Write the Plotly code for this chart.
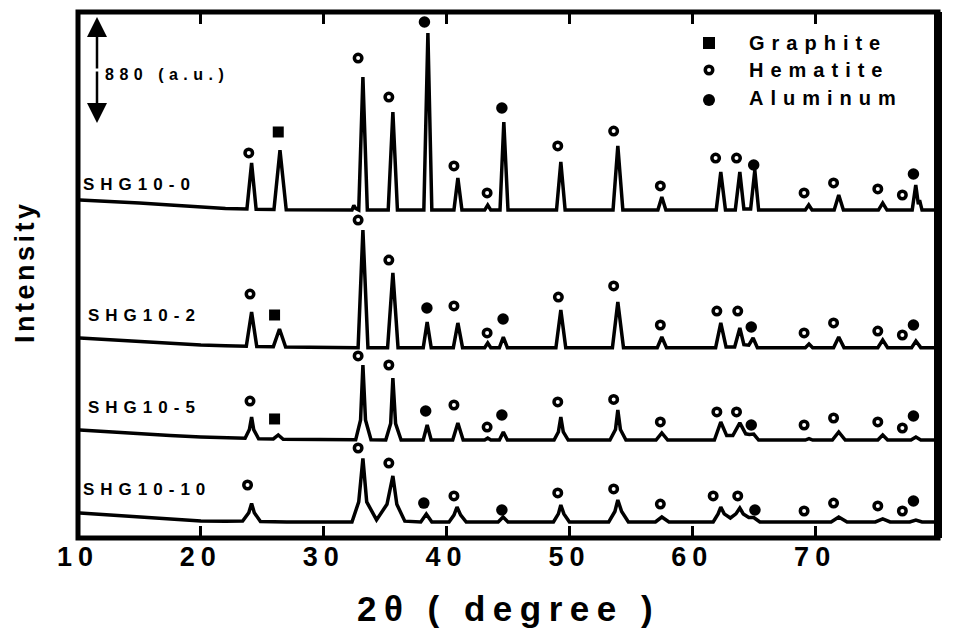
import plotly.graph_objects as go

# ---------------- data (2-theta in degree, intensity in a.u.) ----------------
x_ticks = [10, 20, 30, 40, 50, 60, 70, 80]
x_tick_labels = ["10", "20", "30", "40", "50", "60", "70", "80"]

sample_names = ["SHG10-0", "SHG10-2", "SHG10-5", "SHG10-10"]
phase_names = ["Graphite", "Hematite", "Aluminum"]
scale_bar_au = 880

shg10_0 = [
    (10.15, 2805), (12.5, 2795), (15, 2781), (17.5, 2765), (20, 2747), (22, 2735),
    (23.75, 2731), (24.13, 3113), (24.5, 2728),
    (25.95, 2726), (26.44, 3220), (26.95, 2724),
    (32.3, 2722), (32.45, 2760), (32.6, 2735),
    (32.85, 2722), (33.19, 3826), (33.55, 2722),
    (35.25, 2722), (35.63, 3536), (36.0, 2722),
    (38.15, 2722), (38.48, 4192), (38.8, 2722),
    (40.6, 2722), (40.92, 2988), (41.25, 2722),
    (43.1, 2722), (43.35, 2764), (43.6, 2722),
    (44.35, 2722), (44.66, 3453), (45.0, 2722),
    (48.95, 2722), (49.3, 3121), (49.65, 2722),
    (53.55, 2722), (53.94, 3254), (54.35, 2722),
    (57.2, 2722), (57.52, 2830), (57.85, 2722),
    (61.95, 2722), (62.32, 3038), (62.7, 2722),
    (63.5, 2722), (63.87, 3038), (64.2, 2730),
    (64.75, 2730), (65.09, 3054), (65.4, 2722),
    (69.2, 2722), (69.48, 2764), (69.75, 2722),
    (71.55, 2722), (71.92, 2847), (72.3, 2722),
    (75.15, 2722), (75.5, 2780), (75.85, 2722),
    (77.9, 2722), (78.19, 2930), (78.4, 2770), (78.5, 2805), (78.7, 2722),
    (80.0, 2722),
]

shg10_2 = [
    (10.15, 1660), (12.5, 1645), (15, 1627), (17.5, 1614), (20, 1602), (22, 1595),
    (23.7, 1592), (24.13, 1876), (24.55, 1590),
    (25.9, 1588), (26.4, 1735), (26.9, 1585),
    (32.8, 1580), (33.19, 2556), (33.6, 1580),
    (35.2, 1580), (35.63, 2200), (36.05, 1580),
    (38.1, 1580), (38.42, 1793), (38.75, 1580),
    (40.55, 1580), (40.92, 1785), (41.3, 1580),
    (43.1, 1580), (43.35, 1619), (43.6, 1580),
    (44.3, 1580), (44.62, 1668), (44.95, 1580),
    (48.9, 1580), (49.3, 1892), (49.7, 1580),
    (53.5, 1580), (53.94, 1959), (54.4, 1580),
    (57.15, 1580), (57.52, 1668), (57.9, 1580),
    (61.9, 1580), (62.32, 1785), (62.75, 1585),
    (63.45, 1585), (63.87, 1743), (64.2, 1605), (64.6, 1600), (64.95, 1660), (65.3, 1580),
    (69.2, 1580), (69.5, 1610), (69.8, 1580),
    (71.5, 1580), (71.92, 1668), (72.35, 1580),
    (75.1, 1580), (75.5, 1643), (75.9, 1580),
    (77.85, 1580), (78.2, 1635), (78.6, 1580),
    (80.0, 1580),
]

shg10_5 = [
    (10.15, 896), (12.5, 880), (15, 863), (17.5, 850), (20, 838), (22, 832),
    (23.6, 828), (23.95, 900), (24.13, 1004), (24.3, 900), (24.7, 824),
    (25.9, 822), (26.3, 855), (26.7, 820),
    (32.6, 815), (33.0, 980), (33.19, 1436), (33.4, 980), (33.85, 815),
    (35.05, 813), (35.45, 950), (35.63, 1328), (35.85, 950), (36.3, 813),
    (38.1, 813), (38.42, 938), (38.75, 813),
    (40.5, 813), (40.92, 955), (41.35, 813),
    (43.1, 813), (43.35, 830), (43.6, 813),
    (44.3, 813), (44.62, 880), (44.95, 813),
    (48.75, 813), (49.1, 880), (49.3, 1004), (49.5, 880), (49.9, 813),
    (53.3, 813), (53.75, 900), (53.94, 1062), (54.15, 900), (54.6, 813),
    (57.05, 813), (57.52, 872), (58.0, 813),
    (61.8, 813), (62.32, 963), (62.8, 850),
    (63.3, 850), (63.87, 955), (64.35, 865), (64.65, 860), (65.0, 863), (65.4, 813),
    (69.2, 813), (69.5, 825), (69.8, 813),
    (71.4, 813), (71.92, 880), (72.45, 813),
    (75.1, 813), (75.5, 855), (75.9, 813),
    (77.8, 813), (78.2, 838), (78.6, 813),
    (80.0, 813),
]

shg10_10 = [
    (10.15, 208), (12.5, 192), (15, 174), (17.5, 157), (20, 141), (22, 138),
    (23.4, 140), (23.9, 210), (24.13, 286), (24.35, 210), (24.85, 137),
    (27.0, 133), (32.3, 133), (32.85, 300), (33.19, 660), (33.5, 300), (34.3, 150),
    (35.15, 280), (35.63, 515), (35.95, 280), (36.6, 140),
    (37.9, 133), (38.35, 199), (38.8, 133),
    (40.2, 133), (40.6, 190), (40.85, 257), (41.15, 190), (41.6, 133),
    (44.2, 133), (44.6, 174), (45.0, 133),
    (48.7, 133), (49.1, 200), (49.3, 274), (49.55, 200), (50.0, 133),
    (53.2, 133), (53.7, 220), (53.94, 315), (54.25, 220), (54.8, 133),
    (57.0, 133), (57.52, 174), (58.1, 133),
    (61.7, 133), (62.1, 200), (62.32, 257), (62.6, 200), (63.1, 166), (63.55, 200),
    (63.87, 249), (64.15, 200), (64.6, 170), (65.0, 170), (65.5, 133),
    (71.3, 133), (71.92, 174), (72.6, 133),
    (74.9, 133), (75.5, 158), (76.1, 133),
    (77.7, 133), (78.2, 149), (78.7, 133),
    (80.0, 133),
]

# phase markers (2-theta, intensity) per sample
hem_0 = [(23.9, 3196), (32.8, 3984), (35.3, 3660), (40.6, 3088), (43.3, 2864), (49.05, 3254),
         (53.6, 3378), (57.4, 2922), (61.9, 3154), (63.6, 3154), (69.1, 2864), (71.5, 2947),
         (75.1, 2897), (77.1, 2847)]
gra_0 = [(26.3, 3370)]
alu_0 = [(38.2, 4283), (44.5, 3569), (65.0, 3096), (78.0, 3021)]

hem_2 = [(24.0, 2025), (32.8, 2639), (35.3, 2307), (40.6, 1926), (43.3, 1702), (49.1, 2000),
         (53.6, 2092), (57.4, 1768), (62.0, 1884), (63.7, 1884), (69.1, 1702), (71.5, 1785),
         (75.1, 1718), (77.1, 1685)]
gra_2 = [(26.0, 1851)]
alu_2 = [(38.4, 1909), (44.6, 1818), (64.8, 1751), (78.0, 1768)]

hem_5 = [(24.0, 1137), (32.8, 1511), (35.3, 1436), (40.6, 1104), (43.3, 921), (49.05, 1129),
         (53.6, 1150), (57.4, 963), (62.0, 1046), (63.6, 1046), (69.1, 938), (71.5, 996),
         (75.1, 963), (77.1, 913)]
gra_5 = [(26.0, 988)]
alu_5 = [(38.3, 1054), (44.5, 1021), (64.8, 938), (78.0, 1013)]

hem_10 = [(23.8, 440), (32.8, 747), (35.3, 622), (40.6, 349), (49.05, 374), (53.6, 407),
          (57.4, 282), (61.7, 349), (63.7, 349), (69.1, 224), (71.5, 290), (75.1, 266),
          (77.1, 224)]
gra_10 = []
alu_10 = [(38.15, 290), (44.5, 232), (65.1, 232), (78.0, 307)]

# ---------------- layout geometry ----------------
W, H = 957, 630
ML, MR, MT, MB = 78, 19, 12, 92
PW, PH = W - ML - MR, H - MT - MB
X_RANGE = [10, 80]
Y_RANGE = [0, 4366]

FONT = "Liberation Sans, Arial, sans-serif"


def dx(px):
    return X_RANGE[0] + (px - ML) / PW * (X_RANGE[1] - X_RANGE[0])


def dy(py):
    return Y_RANGE[0] + (MT + PH - py) / PH * (Y_RANGE[1] - Y_RANGE[0])


def ppx(px):
    return (px - ML) / PW


def ppy(py):
    return (MT + PH - py) / PH


def spaced(text, ls):
    return f'<span style="letter-spacing:{ls}px">{text}</span>'


fig = go.Figure()

patterns = [shg10_0, shg10_2, shg10_5, shg10_10]
hems = [hem_0, hem_2, hem_5, hem_10]
gras = [gra_0, gra_2, gra_5, gra_10]
alus = [alu_0, alu_2, alu_5, alu_10]

for name, pat in zip(sample_names, patterns):
    fig.add_trace(go.Scatter(
        x=[p[0] for p in pat], y=[p[1] for p in pat], mode="lines", name=name,
        line=dict(color="black", width=3.5), showlegend=False, hoverinfo="skip"))


def add_markers(pts, symbol, size, lw=0):
    if not pts:
        return
    fig.add_trace(go.Scatter(
        x=[p[0] for p in pts], y=[p[1] for p in pts], mode="markers", showlegend=False,
        hoverinfo="skip",
        marker=dict(symbol=symbol, size=size, color="black",
                    line=dict(color="black", width=lw))))


for h_, g_, a_ in zip(hems, gras, alus):
    add_markers(h_, "circle-open", 7.5, 3.5)
    add_markers(g_, "square", 11)
    add_markers(a_, "circle", 11.5)

# legend keys
add_markers([(dx(709), dy(43))], "square", 12)
add_markers([(dx(709), dy(70))], "circle-open", 7.5, 3.5)
add_markers([(dx(709), dy(100))], "circle", 12)

annotations = []
# legend text
for txt, py in zip(phase_names, [43, 70, 98]):
    annotations.append(dict(
        x=ppx(747), y=ppy(py), xref="paper", yref="paper", xanchor="left", yanchor="middle",
        text=spaced(txt, 7), showarrow=False,
        font=dict(family=FONT, size=20, color="black", weight="bold")))

# sample labels
for txt, (px, py) in zip(sample_names, [(81, 184), (86, 315), (86, 407), (81, 489)]):
    annotations.append(dict(
        x=ppx(px), y=ppy(py), xref="paper", yref="paper", xanchor="left", yanchor="middle",
        text=spaced(txt, 6), showarrow=False,
        font=dict(family=FONT, size=17, color="black", weight="bold")))

# scale bar
ax_x = dx(97)
mid_y = (dy(17) + dy(123)) / 2
for tip in [dy(17), dy(123)]:
    annotations.append(dict(
        x=ax_x, y=tip, ax=ax_x, ay=mid_y, xref="x", yref="y", axref="x", ayref="y",
        text="", showarrow=True, arrowhead=2, arrowsize=1.6, arrowwidth=2.5,
        arrowcolor="black", standoff=0))
annotations.append(dict(
    x=ppx(103), y=ppy(75), xref="paper", yref="paper", xanchor="left", yanchor="middle",
    text=spaced(f"{scale_bar_au} (a.u.)", 5.5), showarrow=False,
    font=dict(family=FONT, size=16, color="black", weight="bold")))

# axis titles
annotations.append(dict(
    x=ppx(508), y=ppy(608), xref="paper", yref="paper", xanchor="center", yanchor="middle",
    text=spaced("2θ ( degree )", 7.5), showarrow=False,
    font=dict(family=FONT, size=35, color="black", weight="bold")))
annotations.append(dict(
    x=ppx(25), y=ppy(272), xref="paper", yref="paper", xanchor="center", yanchor="middle",
    text=spaced("Intensity", 3.5), showarrow=False, textangle=-90,
    font=dict(family=FONT, size=27, color="black", weight="bold")))

shapes = [
    dict(type="rect", xref="paper", yref="paper", x0=0, x1=1, y0=0, y1=1,
         line=dict(color="black", width=5), layer="above"),
    dict(type="line", xref="paper", yref="paper", x0=1, x1=1, y0=0, y1=1,
         line=dict(color="black", width=8), layer="above"),
]

fig.update_layout(
    width=W, height=H,
    margin=dict(l=ML, r=MR, t=MT, b=MB, pad=0),
    paper_bgcolor="white", plot_bgcolor="white",
    annotations=annotations, shapes=shapes,
    xaxis=dict(range=X_RANGE, tickvals=x_ticks,
               ticktext=[spaced(t, 6) for t in x_tick_labels],
               ticks="inside", ticklen=12, tickwidth=3, tickcolor="black",
               mirror="ticks", showline=False, showgrid=False, zeroline=False,
               tickfont=dict(family=FONT, size=27, color="black", weight="bold")),
    yaxis=dict(range=Y_RANGE, showticklabels=False, ticks="", showline=False,
               showgrid=False, zeroline=False),
)

fig.write_html(
    "out.html",
    config={"displayModeBar": False},
    post_script="document.body.style.margin='0';document.body.style.overflow='hidden';",
)
